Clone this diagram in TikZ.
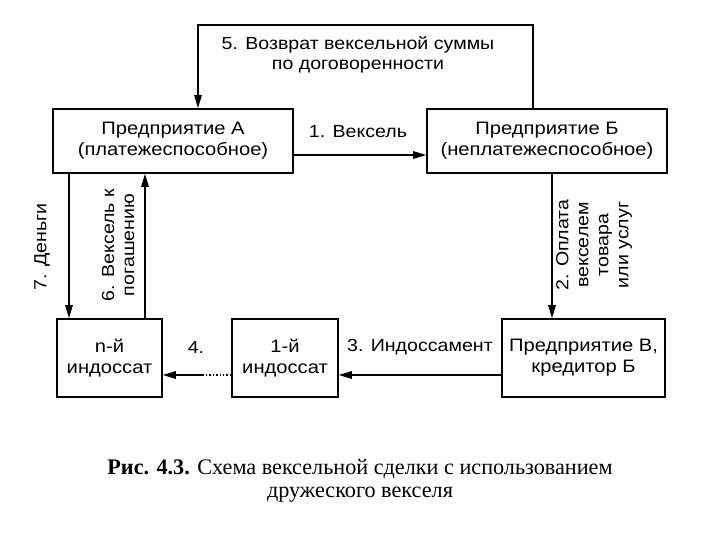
\documentclass[tikz,border=0pt]{standalone}
\usepackage{fontspec}
\setmainfont{Liberation Serif}
\newfontfamily\dsans[FakeStretch=1.12]{Liberation Sans}
\usetikzlibrary{arrows.meta}
\begin{document}
\begin{tikzpicture}[x=1pt,y=-1pt,
  box/.style={draw, line width=1.6pt, align=center, inner sep=0pt, font=\dsans\fontsize{18}{21}\selectfont},
  lbl/.style={align=center, inner sep=0pt, font=\dsans\fontsize{17.5}{20}\selectfont},
  arr/.style={line width=1.4pt, -{Triangle[length=13pt,width=7.5pt]}},
  ln/.style={line width=1.4pt}]
\useasboundingbox[fill=white] (0,0) rectangle (720,540);
% boxes
\node[box, minimum width=240pt, minimum height=64pt] (A) at (173,141) {Предприятие А\\(платежеспособное)};
\node[box, minimum width=240pt, minimum height=64pt] (B) at (547,141) {Предприятие Б\\(неплатежеспособное)};
\node[box, minimum width=105pt, minimum height=78pt] (N) at (109.5,358) {n-й\\индоссат};
\node[box, minimum width=106pt, minimum height=78pt] (F) at (285,358) {1-й\\индоссат};
\node[box, minimum width=163pt, minimum height=78pt] (V) at (583.5,358) {Предприятие В,\\кредитор Б};
% helper coordinates
\coordinate (t1) at (533,25);
\coordinate (t2) at (198,25);
\coordinate (y1) at (0,155);
\coordinate (x7) at (69,0);
\coordinate (x6) at (145,0);
\coordinate (x2) at (552,0);
\coordinate (y3) at (0,375);
\coordinate (d4) at (203,375);
% connectors
\draw[arr] (B.north -| t1) -- (t1) -- (t2) -- (A.north -| t2);
\draw[arr] (A.east |- y1) -- (B.west |- y1);
\draw[arr] (A.south -| x7) -- (N.north -| x7);
\draw[arr] (N.north -| x6) -- (A.south -| x6);
\draw[arr] (B.south -| x2) -- (V.north -| x2);
\draw[arr] (V.west |- y3) -- (F.east |- y3);
\draw[ln, dotted] (F.west |- y3) -- (d4);
\draw[arr] (d4) -- (N.east |- y3);
% labels
\node[lbl] (l5) at (358,55) {5. Возврат вексельной суммы\\по договоренности};
\node[lbl] (l1) at (358,132) {1. Вексель};
\node[lbl, rotate=90] (l7) at (42,247) {7. Деньги};
\node[lbl, rotate=90] (l6) at (118,245) {6. Вексель к\\погашению};
\node[lbl, rotate=90] (l2) at (594,245) {2. Оплата\\векселем\\товара\\или услуг};
\node[lbl] (l3) at (420,347) {3. Индоссамент};
\node[lbl] (l4) at (196,347) {4.};
% caption
\node[align=center, inner sep=0pt, font=\fontsize{22.2}{23}\selectfont] (cap) at (360,481) {\textbf{Рис. 4.3.} Схема вексельной сделки с использованием\\дружеского векселя};
\end{tikzpicture}
\end{document}
